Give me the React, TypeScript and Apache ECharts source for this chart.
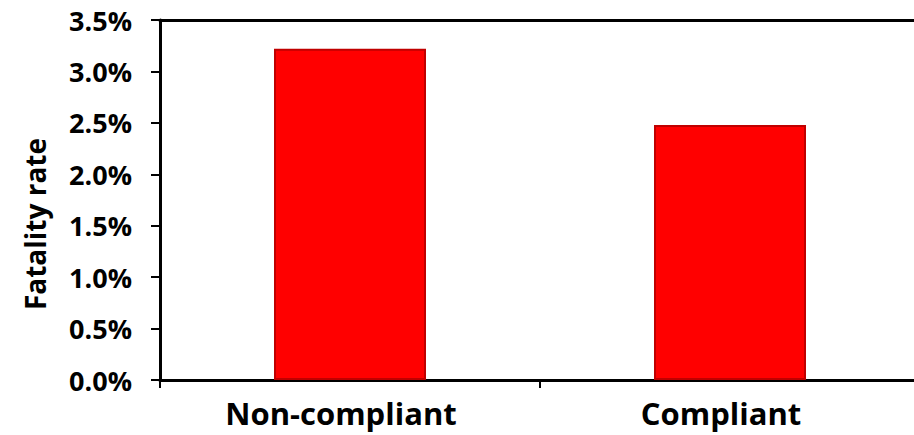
import React, { useEffect, useRef } from "react";
import * as echarts from "echarts";

const categories = ["Non-compliant", "Compliant"];
const fatalityRate = [3.22, 2.48];
const yTicks = [0, 0.5, 1, 1.5, 2, 2.5, 3, 3.5];
const yTitle = "Fatality rate";

export default function App() {
  const ref = useRef<HTMLDivElement>(null);
  useEffect(() => {
    if (!ref.current) return;
    const chart = echarts.init(ref.current, null, { renderer: "svg" });
    const font = "'Open Sans', 'Noto Sans', sans-serif";
    chart.setOption({
      animation: false,
      grid: {
        left: 160,
        top: 20,
        width: 760,
        height: 360,
        containLabel: false,
        outerBoundsMode: "none",
      },
      graphic: [
        {
          type: "text",
          x: 35,
          y: 224,
          rotation: Math.PI / 2,
          style: {
            text: yTitle,
            fill: "#000",
            font: "bold 28px 'Open Sans', 'Noto Sans', sans-serif",
            textAlign: "center",
            textVerticalAlign: "middle",
          },
        },
      ],
      xAxis: [
        {
          type: "category",
          data: categories,
          axisLine: { lineStyle: { color: "#000", width: 3 } },
          axisTick: { show: true, length: 8, lineStyle: { color: "#000", width: 2 } },
          axisLabel: {
            color: "#000",
            fontFamily: font,
            fontWeight: "bold",
            fontSize: 31,
            margin: 17,
            padding: [0, 18, 0, 0],
          },
        },
        {
          type: "category",
          data: categories,
          position: "top",
          axisLine: { show: true, lineStyle: { color: "#000", width: 3 } },
          axisTick: { show: false },
          axisLabel: { show: false },
        },
      ],
      yAxis: {
        type: "value",
        min: yTicks[0],
        max: yTicks[yTicks.length - 1],
        interval: 0.5,
        splitLine: { show: false },
        axisLine: { show: true, lineStyle: { color: "#000", width: 3 } },
        axisTick: { show: true, length: 9, lineStyle: { color: "#000", width: 2 } },
        axisLabel: {
          color: "#000",
          fontFamily: font,
          fontWeight: "bold",
          fontSize: 27,
          margin: 28,
          formatter: (v: number) => v.toFixed(1) + "%",
        },
      },
      series: [
        {
          type: "bar",
          data: fatalityRate,
          barWidth: "40%",
          itemStyle: {
            color: "#ff0000",
            borderColor: "#c00000",
            borderWidth: 2,
          },
        },
      ],
    });
    return () => chart.dispose();
  }, []);
  return (
    <div
      ref={ref}
      style={{ position: "fixed", left: 0, top: 0, width: 914, height: 435, background: "#fff" }}
    />
  );
}
